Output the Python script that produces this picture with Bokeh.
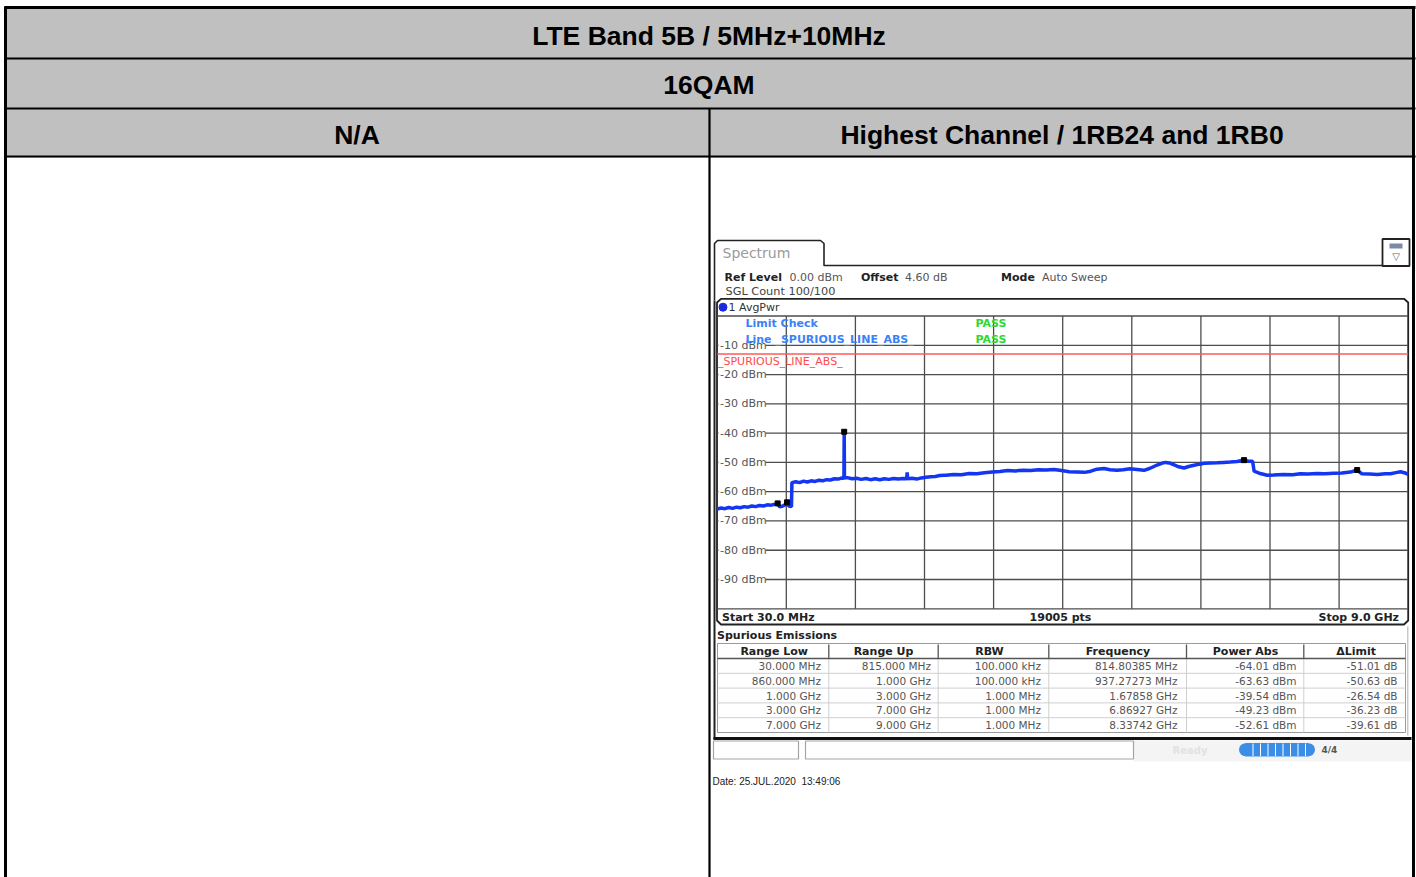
from bokeh.plotting import figure
from bokeh.models import Range1d
from bokeh.core.properties import value
from bokeh.embed import file_html
from bokeh.resources import INLINE

# ---------------- data ----------------
title_text = "LTE Band 5B / 5MHz+10MHz"
modulation_text = "16QAM"
left_col_text = "N/A"
right_col_text = "Highest Channel / 1RB24 and 1RB0"

f_start_mhz = 30.0
f_stop_mhz = 9000.0
ref_level_dbm = 0.0
n_div = 10
db_per_div = 10.0
limit_dbm = -13.0
y_tick_dbm = [-10, -20, -30, -40, -50, -60, -70, -80, -90]
y_tick_labels = ["-10 dBm", "-20 dBm", "-30 dBm", "-40 dBm", "-50 dBm",
                 "-60 dBm", "-70 dBm", "-80 dBm", "-90 dBm"]

trace_freq_mhz = [
    30, 80, 130, 180, 230, 280, 330, 380, 430, 480, 530, 580, 630, 680, 730, 780,
    814.8, 840, 870, 900, 937.3, 960, 994,
    1000, 1050, 1100, 1150, 1200, 1250, 1300, 1350, 1400, 1450, 1500, 1550, 1600,
    1650, 1675, 1678.6, 1682, 1720, 1780, 1840, 1900, 1960, 2020, 2080, 2140, 2200,
    2260, 2320, 2380, 2440, 2490, 2496, 2502, 2560, 2620, 2680, 2740, 2800, 2860,
    2920, 2980,
    3000, 3100, 3200, 3300, 3400, 3500, 3600, 3700, 3800, 3900, 4000, 4100, 4200,
    4300, 4400, 4500, 4600, 4700, 4800, 4880, 4960, 5050, 5130, 5220, 5300, 5390,
    5480, 5570, 5650, 5740, 5800, 5850, 5900, 5960, 6020, 6090, 6150, 6220, 6290,
    6350, 6430, 6520, 6600, 6690, 6780, 6869.3, 6920, 6980,
    7000, 7080, 7170, 7250, 7380, 7500, 7600, 7700, 7820, 7920, 8030, 8140, 8250,
    8337.4, 8400, 8500, 8600, 8700, 8770, 8840, 8900, 8960, 9000]
trace_dbm = [
    -65.9, -65.6, -65.8, -65.4, -65.7, -65.3, -65.5, -65.1, -65.3, -64.9, -65.1,
    -64.7, -64.9, -64.5, -64.6, -64.3,
    -64.0, -65.2, -65.0, -64.7, -63.6, -64.9, -65.1,
    -56.9, -56.6, -56.9, -56.4, -56.7, -56.3, -56.5, -56.1, -56.3, -55.9, -56.0,
    -55.6, -55.7, -55.3, -55.4, -39.5, -55.3, -55.2, -55.6, -55.4, -55.8, -55.5,
    -55.9, -55.6, -55.9, -55.6, -55.8, -55.5, -55.7, -55.5, -55.6, -53.4, -55.6,
    -55.4, -55.7, -55.3, -55.1, -54.9, -54.8, -54.5, -54.4,
    -54.4, -54.1, -54.2, -53.8, -53.9, -53.5, -53.3, -53.1, -52.8, -52.9, -52.7,
    -52.8, -52.5, -52.6, -52.4, -52.8, -53.2, -53.3, -53.4, -53.0, -52.3, -52.1,
    -52.5, -52.7, -52.5, -52.2, -52.4, -52.7, -52.0, -50.9, -50.3, -50.0, -50.2,
    -50.8, -51.5, -51.9, -51.4, -51.0, -50.6, -50.3, -50.2, -50.1, -50.0, -49.9,
    -49.7, -49.2, -49.6, -49.6,
    -53.0, -53.8, -54.4, -54.3, -54.1, -54.2, -53.9, -54.0, -53.8, -53.9, -53.7,
    -53.6, -53.3, -52.6, -53.9, -54.0, -54.1, -53.9, -53.9, -53.5, -53.2, -53.6,
    -54.1]

peak_freq_mhz = [814.80385, 937.27273, 1678.58, 6869.27, 8337.42]
peak_dbm = [-64.01, -63.63, -39.54, -49.23, -52.61]

tbl_headers = ["Range Low", "Range Up", "RBW", "Frequency", "Power Abs", "\u0394Limit"]
tbl_range_low = ["30.000 MHz", "860.000 MHz", "1.000 GHz", "3.000 GHz", "7.000 GHz"]
tbl_range_up = ["815.000 MHz", "1.000 GHz", "3.000 GHz", "7.000 GHz", "9.000 GHz"]
tbl_rbw = ["100.000 kHz", "100.000 kHz", "1.000 MHz", "1.000 MHz", "1.000 MHz"]
tbl_frequency = ["814.80385 MHz", "937.27273 MHz", "1.67858 GHz", "6.86927 GHz", "8.33742 GHz"]
tbl_power_abs = ["-64.01 dBm", "-63.63 dBm", "-39.54 dBm", "-49.23 dBm", "-52.61 dBm"]
tbl_delta_limit = ["-51.01 dB", "-50.63 dB", "-26.54 dB", "-36.23 dB", "-39.61 dB"]

date_text = "Date: 25.JUL.2020\u00a0\u00a013:49:06"

# ---------------- layout ----------------
W, H = 1416, 877
X0, X1, Y0, Y1 = 0, W, 0, H
p = figure(width=W, height=H, x_range=Range1d(X0, X1), y_range=Range1d(Y1, Y0),
           x_axis_type=None, y_axis_type=None, output_backend="svg",
           toolbar_location=None, min_border=0, outline_line_color=None,
           background_fill_color="white", border_fill_color="white")

# spectrum frame in page pixels
PL, PR, PT, PB = 716.7, 1407.7, 315.5, 608.3
fpp = (f_stop_mhz - f_start_mhz) / (PR - PL)
span_db = n_div * db_per_div
dpp = span_db / (PB - PT)
p.extra_x_ranges = {"freq": Range1d(f_start_mhz + (X0 - PL) * fpp, f_start_mhz + (X1 - PL) * fpp)}
p.extra_y_ranges = {"dbm": Range1d(ref_level_dbm - (Y1 - PT) * dpp, ref_level_dbm + (PT - Y0) * dpp)}
FR = dict(x_range_name="freq", y_range_name="dbm")

SANS = value("Liberation Sans")
UI = value("DejaVu Sans")


def txt(x, y, s, size="11px", font=UI, color="#333333", bold=False, align="left", **kw):
    xs = x if isinstance(x, list) else [x]
    ys = y if isinstance(y, list) else [y] * len(xs)
    ss = s if isinstance(s, list) else [s] * len(xs)
    if len(xs) == 1 and len(ss) > 1:
        xs = xs * len(ss)
    p.text(x=xs, y=ys, text=ss, text_font=font, text_font_size=size, text_color=color,
           text_font_style="bold" if bold else "normal", text_align=align,
           text_baseline="middle", **kw)


# ---------- outer table ----------
p.quad(left=[5], right=[1413], top=[7], bottom=[157], fill_color="#c0c0c0", line_color=None)
p.segment(x0=[4, 4, 4, 4], x1=[1415] * 4, y0=[7, 58, 108, 156], y1=[7, 58, 108, 156],
          line_color="black", line_width=[3, 2.2, 2.2, 2.2])
p.segment(x0=[5, 709, 1413], x1=[5, 709, 1413], y0=[6, 108, 6], y1=[877, 877, 877],
          line_color="black", line_width=[3, 2.2, 3])

txt(708.5, 35.5, title_text, size="26.5px", font=SANS, color="black", bold=True, align="center")
txt(708.5, 84.5, modulation_text, size="26.5px", font=SANS, color="black", bold=True, align="center")
txt(356.5, 134.5, left_col_text, size="26.5px", font=SANS, color="black", bold=True, align="center")
txt(1061.5, 134.5, right_col_text, size="26.5px", font=SANS, color="black", bold=True, align="center")

# ---------- analyzer header ----------
p.line(x=[714, 714, 717, 820, 823.5, 823.5, 1382],
       y=[300, 243, 240, 240, 243, 265, 265], line_color="#222222", line_width=1.6)
txt(722, 252.5, "Spectrum", size="14px", color="#9a9a9a")
p.quad(left=[1382], right=[1409], top=[238.5], bottom=[265.5], fill_color="white",
       line_color="#222222", line_width=1.8)
p.quad(left=[1389], right=[1402], top=[243], bottom=[248], fill_color="#7d8aa6", line_color=None)
txt(1395.5, 256, "\u25BD", size="10px", color="#556070", align="center")

txt(724, 276.5, "Ref Level", bold=True, color="#222222")
txt(789, 276.5, "0.00 dBm", color="#555555")
txt(860.5, 276.5, "Offset", bold=True, color="#222222")
txt(904.5, 276.5, "4.60 dB", color="#555555")
txt(1000.5, 276.5, "Mode", bold=True, color="#222222")
txt(1041.5, 276.5, "Auto Sweep", color="#555555")
txt(725, 290.5, "SGL Count 100/100", size="11.3px", color="#444444")

# diagram box
p.line(x=[716.5, 716.5, 720.5, 1403.5, 1407.7, 1407.7, 1403.5, 720.5, 716.5, 716.5],
       y=[302, 620, 624, 624, 620, 302, 298.3, 298.3, 302, 620], line_color="#222222", line_width=1.8)
p.segment(x0=[714], x1=[714], y0=[300], y1=[739], line_color="#222222", line_width=2)

p.scatter(x=[722.5], y=[306.7], marker="circle", size=8, fill_color="#1a2adc", line_color="#1a2adc")
txt(728, 307, "1 AvgPwr", color="#333333")

# grid
grid_f = [f_start_mhz + k * (f_stop_mhz - f_start_mhz) / n_div for k in range(1, n_div)]
p.segment(x0=grid_f, x1=grid_f, y0=[ref_level_dbm] * len(grid_f),
          y1=[ref_level_dbm - span_db] * len(grid_f), line_color="#4d4d4d", line_width=1.3, **FR)
grid_db = [ref_level_dbm - k * db_per_div for k in range(0, n_div + 1)]
p.segment(x0=[f_start_mhz] * len(grid_db), x1=[f_stop_mhz] * len(grid_db), y0=grid_db, y1=grid_db,
          line_color="#4d4d4d", line_width=1.3, **FR)

# y labels with white mask
p.rect(x=[741.5] * len(y_tick_dbm), y=y_tick_dbm, width=47, height=11, height_units="screen",
       fill_color="white", line_color=None, y_range_name="dbm")
txt([719.5] * len(y_tick_dbm), y_tick_dbm, y_tick_labels, color="#555555", y_range_name="dbm")

# limit line
p.segment(x0=[f_start_mhz], x1=[f_stop_mhz], y0=[limit_dbm], y1=[limit_dbm],
          line_color="#ff5a5a", line_width=1.4, **FR)
txt(717.5, 361.2, "_SPURIOUS_LINE_ABS_", color="#ff4a4a")

txt(745, 323.3, "Limit Check", bold=True, color="#3b82f6")
txt(745, 338.5, "Line _SPURIOUS_LINE_ABS_", bold=True, color="#3b82f6")
txt(975, 323.3, "PASS", bold=True, color="#2fd82f")
txt(975, 338.5, "PASS", bold=True, color="#2fd82f")

# trace and peaks
p.line(x=trace_freq_mhz, y=trace_dbm, line_color="#1236f2", line_width=3.5, **FR)
p.scatter(x=peak_freq_mhz, y=peak_dbm, marker="square", size=5, fill_color="black",
          line_color="black", **FR)

# bottom info row
txt(721.5, 616.5, "Start 30.0 MHz", bold=True, color="#222222")
txt(1060, 616.5, "19005 pts", bold=True, color="#222222", align="center")
txt(1398.5, 616.5, "Stop 9.0 GHz", bold=True, color="#222222", align="right")

# ---------- spurious emissions table ----------
p.segment(x0=[1407.3], x1=[1407.3], y0=[626], y1=[735], line_color="#bbbbbb", line_width=1.2)
txt(716.5, 634.7, "Spurious Emissions", bold=True, color="#222222")
p.quad(left=[717], right=[1405], top=[643], bottom=[732], fill_color="white",
       line_color="#9a9a9a", line_width=1)
col_sep = [828.3, 937.7, 1048.3, 1186, 1303.3]
row_top = 658.0
row_h = 14.8
row_sep = [row_top + row_h * k for k in range(1, 5)]
p.segment(x0=[717] * 4, x1=[1405] * 4, y0=row_sep, y1=row_sep, line_color="#cfcfcf", line_width=1)
p.segment(x0=col_sep, x1=col_sep, y0=[row_top] * 5, y1=[732] * 5, line_color="#cfcfcf", line_width=1)
p.segment(x0=col_sep, x1=col_sep, y0=[644] * 5, y1=[row_top] * 5, line_color="#555555", line_width=1.3)
p.segment(x0=[717], x1=[1405], y0=[row_top], y1=[row_top], line_color="#555555", line_width=1.3)

hdr_x = [773.7, 883, 989, 1117.5, 1245, 1355.7]
txt(hdr_x, [651] * 6, tbl_headers, bold=True, color="#222222", align="center")
right_x = [820.5, 930.5, 1040.5, 1177, 1296, 1397]
row_y = [row_top + row_h * (k + 0.5) for k in range(5)]
for cx, col in zip(right_x, [tbl_range_low, tbl_range_up, tbl_rbw, tbl_frequency,
                             tbl_power_abs, tbl_delta_limit]):
    txt([cx] * 5, row_y, col, size="10.5px", color="#555555", align="right")

p.segment(x0=[713], x1=[1411], y0=[738], y1=[738], line_color="#111111", line_width=3)

# ---------- status bar ----------
p.quad(left=[1133], right=[1411], top=[740], bottom=[761], fill_color="#f4f4f4", line_color=None)
p.quad(left=[713, 805], right=[798, 1133], top=[740.5, 740.5], bottom=[758.5, 758.5],
       fill_color="white", line_color="#a5a5a5", line_width=1.2)
txt(1172, 749.5, "Ready", size="10px", color="#e2e2e2", bold=True)
p.quad(left=[1245], right=[1308], top=[742.5], bottom=[756], fill_color="#3a8ee8", line_color=None)
p.scatter(x=[1245, 1308], y=[749.2, 749.2], marker="circle", size=13, fill_color="#3a8ee8", line_color=None)
seg_x = [1245 + 7.5 * k for k in range(1, 9)]
p.segment(x0=seg_x, x1=seg_x, y0=[743] * 8, y1=[755.5] * 8, line_color="white", line_width=1)
txt(1321, 749.5, "4/4", size="9px", color="#555555", bold=True)

# date
txt(712, 781, date_text, size="10px", font=SANS, color="#222222")

open("out.html", "w").write(file_html(p, INLINE))
